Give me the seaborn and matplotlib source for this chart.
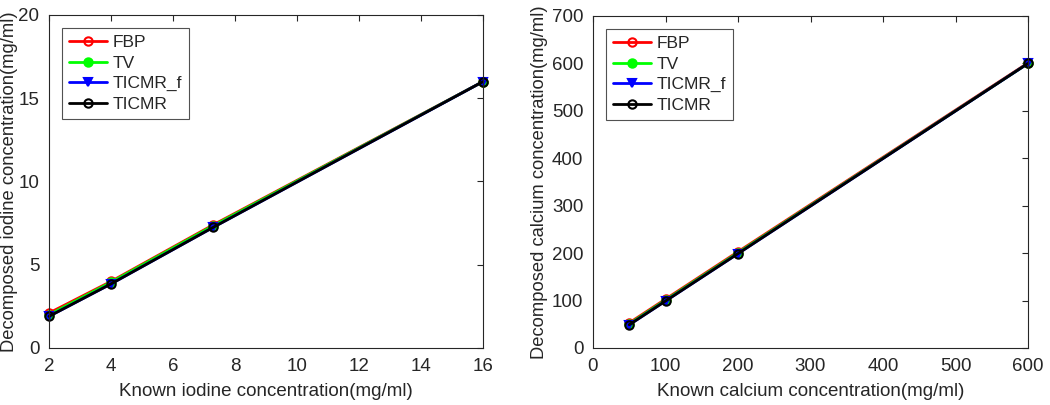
import pandas as pd
import matplotlib.pyplot as plt
import numpy as np
import seaborn as sns

methods = ["FBP", "TV", "TICMR_f", "TICMR"]
colors = ["#ff0000", "#00ff00", "#0000ff", "#000000"]
markers = ["o", "o", "v", "o"]
fills = ["none", "full", "full", "none"]

iodine_known = [2, 4, 7.3, 16]
iodine_fbp = [2.1, 4.0, 7.4, 16.0]
iodine_tv = [2.0, 3.95, 7.35, 16.0]
iodine_ticmr_f = [1.9, 3.85, 7.25, 16.0]
iodine_ticmr = [1.9, 3.85, 7.25, 16.0]

calcium_known = [50, 100, 200, 600]
calcium_fbp = [53, 103, 203, 601]
calcium_tv = [51, 101, 201, 600]
calcium_ticmr_f = [49, 99, 199, 600]
calcium_ticmr = [49, 99, 199, 600]

sns.set_style('white')
plt.rcParams['font.family'] = ['Liberation Sans', 'DejaVu Sans']

fig = plt.figure(figsize=(10.5, 4.05), dpi=100)
ax1 = fig.add_axes([49 / 1050, 1 - 348 / 405, 434 / 1050, 333 / 405])
ax2 = fig.add_axes([593 / 1050, 1 - 348 / 405, 435 / 1050, 332 / 405])


def draw(ax, known, series):
    for name, vals, c, m, f in zip(methods, series, colors, markers, fills):
        df = pd.DataFrame({"x": known, "y": vals})
        sns.lineplot(data=df, x="x", y="y", ax=ax, color=c, marker=m,
                     markersize=6, markeredgewidth=1.5, linewidth=2,
                     markerfacecolor=(c if f == "full" else "none"),
                     markeredgecolor=c, label=name)
    for s in ax.spines.values():
        s.set_color("#262626")
        s.set_linewidth(0.8)
    ax.tick_params(direction="in", top=True, right=True, length=4,
                   labelsize=13.5, colors="#262626", width=0.8, pad=7)
    leg = ax.legend(loc="upper left", bbox_to_anchor=(0.03, 0.96),
                    borderaxespad=0, fontsize=12.5, frameon=True,
                    fancybox=False, edgecolor="#262626", handlelength=2.2,
                    borderpad=0.4, labelspacing=0.3, handletextpad=0.3)
    leg.get_frame().set_linewidth(0.8)


draw(ax1, iodine_known, [iodine_fbp, iodine_tv, iodine_ticmr_f, iodine_ticmr])
ax1.set_xlim(2, 16)
ax1.set_ylim(0, 20)
ax1.set_xticks(np.arange(2, 17, 2))
ax1.set_yticks([0, 5, 10, 15, 20])
ax1.set_xlabel("Known iodine concentration(mg/ml)", fontsize=13.5)
ax1.set_ylabel("Decomposed iodine concentration(mg/ml)", fontsize=13.2)

draw(ax2, calcium_known, [calcium_fbp, calcium_tv, calcium_ticmr_f, calcium_ticmr])
ax2.set_xlim(0, 600)
ax2.set_ylim(0, 700)
ax2.set_xticks(np.arange(0, 601, 100))
ax2.set_yticks(np.arange(0, 701, 100))
ax2.set_xlabel("Known calcium concentration(mg/ml)", fontsize=13.5)
ax2.set_ylabel("Decomposed calcium concentration(mg/ml)", fontsize=13.2)

for ax in (ax1, ax2):
    ax.xaxis.labelpad = 6
    for line in ax.lines:
        line.set_clip_on(False)
ax1.yaxis.labelpad = 0
ax2.yaxis.labelpad = 3

fig.savefig("out.png", dpi=100)
